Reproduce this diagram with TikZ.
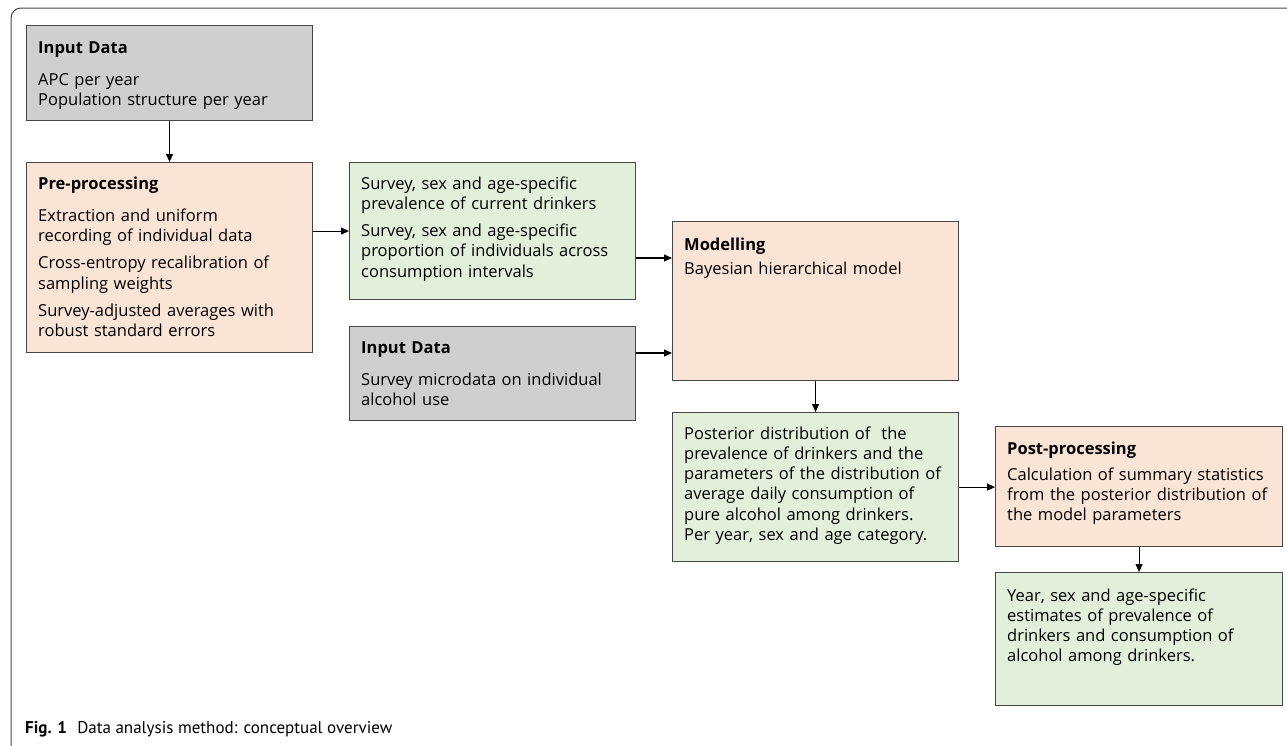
\documentclass[tikz,border=0pt]{standalone}
\usepackage{fontspec}
\setmainfont{Open Sans}
\newfontfamily\capfont{PT Sans}
\usetikzlibrary{arrows.meta,calc}
\definecolor{boxgray}{RGB}{208,207,208}
\definecolor{boxpeach}{RGB}{250,228,214}
\definecolor{boxgreen}{RGB}{226,239,218}
\definecolor{edgegray}{RGB}{70,70,70}
\tikzset{
  box/.style={draw=edgegray, line width=1.1pt, inner sep=0pt, anchor=north west},
  graybox/.style={box, fill=boxgray},
  peachbox/.style={box, fill=boxpeach},
  greenbox/.style={box, fill=boxgreen},
  boxtext/.style={anchor=base west, inner sep=0pt, align=left, font=\fontsize{16.5}{20.3}\selectfont},
  conn/.style={line width=1.1pt, -{Triangle[length=8pt,width=7pt]}},
}
\newcommand{\hd}[1]{\textbf{#1}}
\begin{document}
\begin{tikzpicture}[x=1pt,y=-1pt]
\useasboundingbox (0,0) rectangle (1287,745);
% outer frame
\draw[edgegray, line width=1pt, rounded corners=10pt] (1290,8) -- (11,8) -- (11,750);
% boxes
\node[graybox, minimum width=286pt, minimum height=95pt] (in1) at (26,25) {};
\node[peachbox, minimum width=286pt, minimum height=190pt] (pre) at (26,162) {};
\node[greenbox, minimum width=286pt, minimum height=137pt] (g1) at (349,162) {};
\node[graybox, minimum width=286pt, minimum height=94pt] (in2) at (349,326) {};
\node[peachbox, minimum width=286pt, minimum height=159pt] (mod) at (672,221) {};
\node[greenbox, minimum width=286pt, minimum height=149pt] (pos) at (672,412) {};
\node[peachbox, minimum width=287pt, minimum height=120pt] (pp) at (995,426) {};
\node[greenbox, minimum width=287pt, minimum height=133pt] (fin) at (995,572) {};
% texts
\node[boxtext, text width=270pt] (t1) at (38,53) {\hd{Input Data}\\[12pt]APC per year\\Population structure per year};
\node[boxtext, text width=270pt] (t2) at (38,189) {\hd{Pre-processing}\\[12pt]Extraction and uniform\\recording of individual data\\[7pt]Cross-entropy recalibration of\\sampling weights\\[7pt]Survey-adjusted averages with\\robust standard errors};
\node[boxtext, text width=270pt] (t3) at (361,189) {Survey, sex and age-specific\\prevalence of current drinkers\\[7pt]Survey, sex and age-specific\\proportion of individuals across\\consumption intervals};
\node[boxtext, text width=270pt] (t4) at (361,353) {\hd{Input Data}\\[12pt]Survey microdata on individual\\alcohol use};
\node[boxtext, text width=270pt] (t5) at (684,250) {\hd{Modelling}\\[4pt]Bayesian hierarchical model};
\node[boxtext, text width=270pt] (t6) at (684,439) {Posterior distribution of~ the\\prevalence of drinkers and the\\parameters of the distribution of\\average daily consumption of\\pure alcohol among drinkers.\\Per year, sex and age category.};
\node[boxtext, text width=270pt] (t7) at (1007,454) {\hd{Post-processing}\\[6pt]Calculation of summary statistics\\from the posterior distribution of\\the model parameters};
\node[boxtext, text width=270pt] (t8) at (1007,601) {Year, sex and age-specific\\estimates of prevalence of\\drinkers and consumption of\\alcohol among drinkers.};
% connectors
\draw[conn] (in1.south) -- (pre.north);
\draw[conn] (pre.east |- g1.west) -- (g1.west);
\coordinate (a1) at ($(g1.north east)+(0,96)$);
\draw[conn] (a1) -- (mod.west |- a1);
\coordinate (a2) at ($(in2.north east)+(0,27)$);
\draw[conn] (a2) -- (mod.west |- a2);
\draw[conn] (mod.south) -- (pos.north);
\draw[conn] (pos.east) -- (pos.east -| pp.west);
\draw[conn] (pp.south) -- (fin.north);
% caption
\node[anchor=base west, inner sep=0pt, font=\capfont\fontsize{17}{20}\selectfont] (cap) at (25,733) {\textbf{Fig. 1}\hspace{0.6em}Data analysis method: conceptual overview};
\end{tikzpicture}
\end{document}
